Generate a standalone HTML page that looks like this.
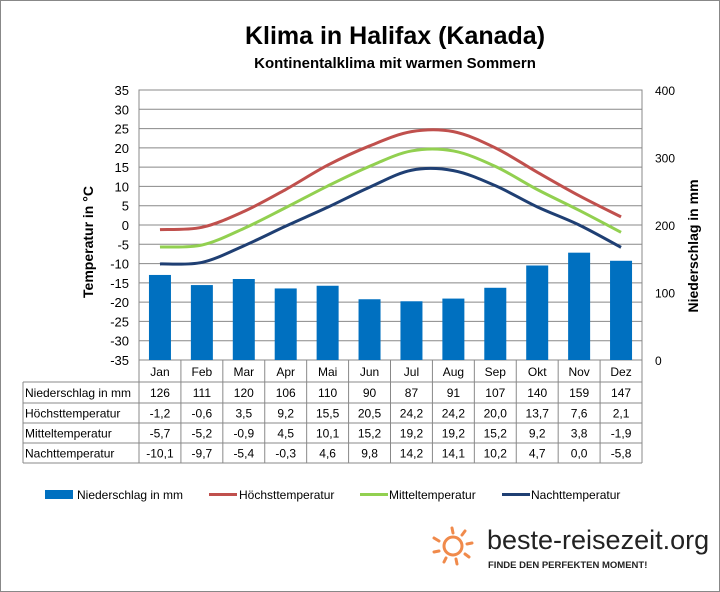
<!DOCTYPE html>
<html><head><meta charset="utf-8"><style>
body{margin:0;background:#fff;}
svg{display:block;font-family:"Liberation Sans",sans-serif;}
</style></head><body>
<svg id="c" width="720" height="592" xmlns="http://www.w3.org/2000/svg">
<rect x="0.5" y="0.5" width="719" height="591" fill="#fff" stroke="#888"/>
<text x="395" y="44" font-size="25" font-weight="bold" text-anchor="middle">Klima in Halifax (Kanada)</text>
<text x="395" y="68" font-size="15" font-weight="bold" text-anchor="middle">Kontinentalklima  mit  warmen  Sommern</text>
<text transform="translate(93,242) rotate(-90)" font-size="14" font-weight="bold" text-anchor="middle">Temperatur in °C</text>
<text transform="translate(698,246) rotate(-90)" font-size="14" font-weight="bold" text-anchor="middle">Niederschlag in mm</text>
<g id="g"></g>
<g>
<rect x="45" y="490" width="28" height="9" fill="#0070c0"/>
<text x="77" y="499" font-size="12">Niederschlag in mm</text>
<line x1="209" y1="494.5" x2="237" y2="494.5" stroke="#c0504d" stroke-width="3"/>
<text x="239" y="499" font-size="12">Höchsttemperatur</text>
<line x1="360" y1="494.5" x2="388" y2="494.5" stroke="#92d050" stroke-width="3"/>
<text x="389" y="499" font-size="12">Mitteltemperatur</text>
<line x1="502" y1="494.5" x2="530" y2="494.5" stroke="#1f3f73" stroke-width="3"/>
<text x="531" y="499" font-size="12">Nachttemperatur</text>
</g>
<g>
<g stroke="#f08a4b" stroke-width="3" stroke-linecap="round" fill="none">
<circle cx="453" cy="546" r="9"/>
<line x1="452" y1="528" x2="453" y2="533"/><line x1="465" y1="531" x2="462" y2="535"/><line x1="472" y1="543" x2="467" y2="544"/>
<line x1="469" y1="557" x2="465" y2="554"/><line x1="457" y1="564" x2="456" y2="559"/><line x1="444" y1="562" x2="446" y2="558"/>
<line x1="434" y1="552" x2="439" y2="551"/><line x1="434" y1="538" x2="439" y2="541"/>
</g>
<text x="487" y="549" font-size="27" fill="#222">beste-reisezeit.org</text>
<text x="488" y="568" font-size="9.5" font-weight="bold" fill="#222">FINDE DEN PERFEKTEN MOMENT!</text>
</g>
</svg>
<script>
const months=["Jan","Feb","Mar","Apr","Mai","Jun","Jul","Aug","Sep","Okt","Nov","Dez"];
const precip=[126,111,120,106,110,90,87,91,107,140,159,147];
const high=[-1.2,-0.6,3.5,9.2,15.5,20.5,24.2,24.2,20.0,13.7,7.6,2.1];
const mean=[-5.7,-5.2,-0.9,4.5,10.1,15.2,19.2,19.2,15.2,9.2,3.8,-1.9];
const night=[-10.1,-9.7,-5.4,-0.3,4.6,9.8,14.2,14.1,10.2,4.7,0.0,-5.8];
const tempTicks=[35,30,25,20,15,10,5,0,-5,-10,-15,-20,-25,-30,-35];
const precipTicks=[0,100,200,300,400];
const rowLabels=["Niederschlag in mm","Höchsttemperatur","Mitteltemperatur","Nachttemperatur"];
const X0=139,X1=642,YT=90,YB=360,CW=(X1-X0)/12;
const xc=i=>X0+CW*(i+0.5);
const yT=v=>YB-(v+35)/70*(YB-YT);
const yP=v=>YB-v/400*(YB-YT);
const fmt=v=>v.toFixed(1).replace('.',',').replace(/^-0,0$/,'0,0');
const g=document.getElementById('g');
const NS='http://www.w3.org/2000/svg';
function mk(t,a,txt){const e=document.createElementNS(NS,t);for(const k in a)e.setAttribute(k,a[k]);if(txt!==undefined)e.textContent=txt;g.appendChild(e);return e;}
mk('rect',{x:X0,y:YT,width:X1-X0,height:YB-YT,fill:'#fff',stroke:'#888'});
tempTicks.forEach(t=>{
  const l=mk('line',{x1:X0,x2:X1,y1:yT(t),y2:yT(t),stroke:'#888','stroke-width':1});
  
  
  const tx=mk('text',{x:X0-10,y:yT(t)+5,'font-size':13,'text-anchor':'end'},t);
  
  
});
precipTicks.forEach(t=>{
  const tx=mk('text',{x:655,y:yP(t)+5,'font-size':12},t);
  
  
});
precip.forEach((v,i)=>{
  const r=mk('rect',{x:xc(i)-11,y:yP(v),width:22,height:YB-yP(v),fill:'#0070c0'});
  
  
});
function smooth(arr){
  const p=arr.map((v,i)=>[xc(i),yT(v)]);
  let d='M'+p[0][0]+','+p[0][1];
  for(let i=0;i<p.length-1;i++){
    const p0=p[Math.max(i-1,0)],p1=p[i],p2=p[i+1],p3=p[Math.min(i+2,p.length-1)];
    const c1=[p1[0]+(p2[0]-p0[0])/6,p1[1]+(p2[1]-p0[1])/6];
    const c2=[p2[0]-(p3[0]-p1[0])/6,p2[1]-(p3[1]-p1[1])/6];
    d+=' C'+c1+' '+c2+' '+p2;
  }
  return d;
}
[[high,'#c0504d','line-high'],[mean,'#92d050','line-mean'],[night,'#1f3f73','line-night']].forEach(([a,c,n])=>{
  const p=mk('path',{d:smooth(a),fill:'none',stroke:c,'stroke-width':3});
  
  
});
const TL=23,rows=[382,403,423,443,463];
for(let i=0;i<=12;i++){const x=X0+CW*i;mk('line',{x1:x,x2:x,y1:YB,y2:rows[4],stroke:'#888'});}
mk('line',{x1:TL,x2:TL,y1:rows[0],y2:rows[4],stroke:'#888'});
rows.forEach(y=>mk('line',{x1:TL,x2:X1,y1:y,y2:y,stroke:'#888'}));
months.forEach((m,i)=>{
  const t=mk('text',{x:xc(i),y:376,'font-size':12,'text-anchor':'middle'},m);
  
  
});
const data=[precip.map(String),high.map(fmt),mean.map(fmt),night.map(fmt)];
rowLabels.forEach((lab,r)=>{
  const y=(rows[r]+rows[r+1])/2+4.5;
  const t=mk('text',{x:TL+2,y:y,'font-size':12},lab);
  
  
  data[r].forEach((v,i)=>{
    const c=mk('text',{x:xc(i),y:y,'font-size':12,'text-anchor':'middle'},v);
    
    
  });
});
</script>
</body></html>
